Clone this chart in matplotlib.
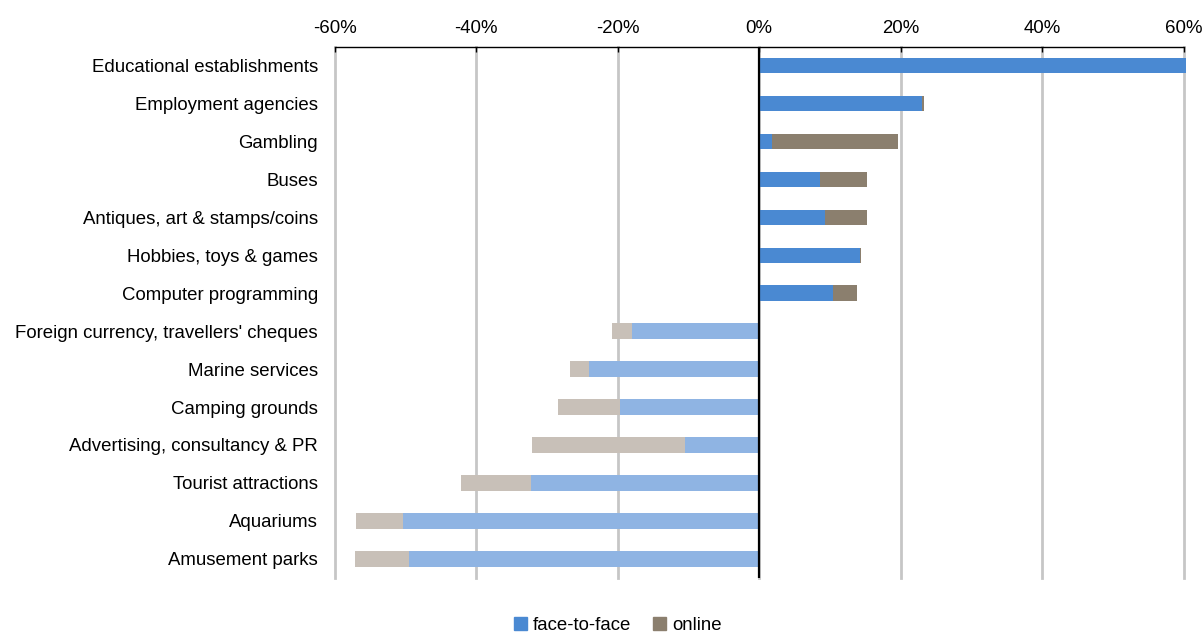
import matplotlib

matplotlib.use("Agg")

import matplotlib.pyplot as plt
from matplotlib.patches import Patch
from matplotlib.ticker import FuncFormatter
import numpy as np

plt.rcParams["font.family"] = ["Liberation Sans", "DejaVu Sans"]

categories = [
    "Educational establishments",
    "Employment agencies",
    "Gambling",
    "Buses",
    "Antiques, art & stamps/coins",
    "Hobbies, toys & games",
    "Computer programming",
    "Foreign currency, travellers' cheques",
    "Marine services",
    "Camping grounds",
    "Advertising, consultancy & PR",
    "Tourist attractions",
    "Aquariums",
    "Amusement parks",
]
face_to_face = [60.4, 23.0, 1.8, 8.6, 9.3, 14.2, 10.5,
                -18.0, -24.1, -19.7, -10.5, -32.2, -50.3, -49.5]
online = [0.0, 0.3, 17.9, 6.7, 5.9, 0.2, 3.3,
          -2.8, -2.6, -8.7, -21.6, -9.9, -6.7, -7.6]
x_ticks = [-60, -40, -20, 0, 20, 40, 60]

F2F_POS = "#4a89d2"
ONL_POS = "#8b7f6e"
F2F_NEG = "#8fb4e3"
ONL_NEG = "#c8c0b8"


def main():
    fig = plt.figure(figsize=(12.04, 6.37), dpi=100)
    ax = fig.add_axes([0.278, 0.0931, 0.705, 0.8336])

    f2f = np.array(face_to_face)
    onl = np.array(online)
    y = np.arange(len(categories))
    pos = f2f >= 0
    c_f2f = [F2F_POS if p else F2F_NEG for p in pos]
    c_onl = [ONL_POS if p else ONL_NEG for p in pos]
    h = 0.41
    ax.barh(y, f2f, height=h, color=c_f2f, zorder=3, clip_on=False)
    ax.barh(y, onl, left=f2f, height=h, color=c_onl, zorder=3, clip_on=False)

    ax.set_xlim(-60, 60)
    ax.set_ylim(len(categories) - 0.5, -0.5)
    ax.set_yticks(y)
    ax.set_yticklabels(categories, fontsize=13.4)
    ax.set_xticks(x_ticks)
    ax.xaxis.set_major_formatter(FuncFormatter(lambda v, _: "%d%%" % v))
    ax.xaxis.tick_top()
    ax.tick_params(axis="x", direction="in", length=3.5, width=1,
                   color="black", labelsize=13.4, pad=7)
    ax.tick_params(axis="y", length=0, pad=12)
    for xt in x_ticks:
        ax.axvline(xt, color="#c6c6c6", lw=2, zorder=0, clip_on=False)
    ax.axvline(0, color="black", lw=1.6, zorder=4)
    for s in ax.spines.values():
        s.set_visible(False)
    ax.spines["top"].set_visible(True)
    ax.spines["top"].set_linewidth(1.0)
    ax.spines["top"].set_zorder(5)

    handles = [Patch(color=F2F_POS, label="face-to-face"),
               Patch(color=ONL_POS, label="online")]
    fig.legend(handles=handles, loc="center", bbox_to_anchor=(0.513, 0.018),
               ncol=2, frameon=False, fontsize=13.4, handlelength=0.7,
               handleheight=0.7, handletextpad=0.3, columnspacing=1.2,
               borderpad=0.1)

    fig.savefig("out.png", dpi=100)
    plt.close(fig)


if __name__ == "__main__":
    main()
